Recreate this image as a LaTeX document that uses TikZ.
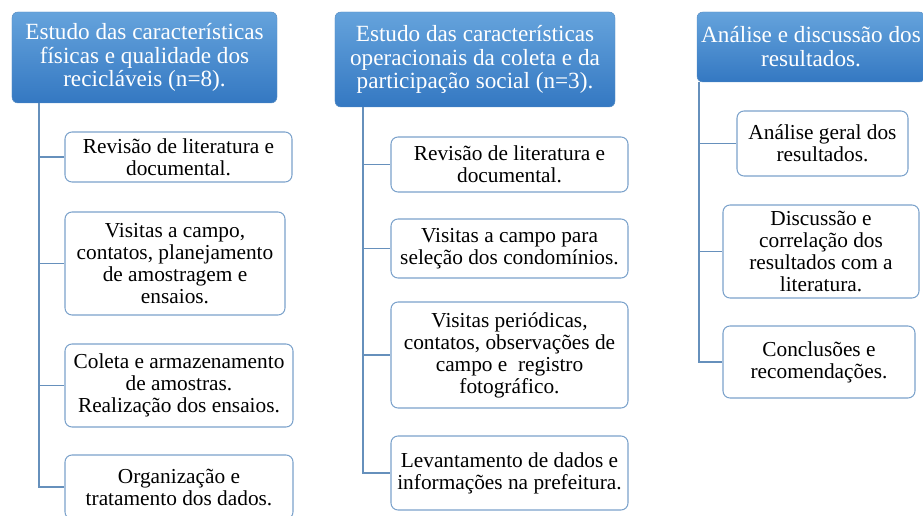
\documentclass[tikz,border=0pt]{standalone}
\usepackage{fontspec}
\setmainfont{Liberation Serif}
\usepackage{tikz}
\usepackage{xcolor}
\usetikzlibrary{positioning}

\definecolor{hdtop}{HTML}{65A3DC}
\definecolor{hdbot}{HTML}{3478C2}
\definecolor{hdline}{HTML}{5A8FC4}
\definecolor{boxline}{HTML}{7BA2CB}
\definecolor{connline}{HTML}{6690BC}

\tikzset{
  header/.style={rounded corners=5pt, draw=hdline, top color=hdtop, bottom color=hdbot,
    text=white, align=center, inner sep=0pt, font=\fontsize{19.8}{20.4}\selectfont},
  item/.style={rounded corners=6pt, draw=boxline, line width=0.9pt, fill=white, align=center,
    inner sep=0pt, font=\fontsize{18.2}{18.8}\selectfont},
  conn/.style={draw=connline, line width=1pt}
}

\begin{document}
\begin{tikzpicture}[x=0.03cm,y=-0.03cm]
\useasboundingbox (0,0) rectangle (923,516);

% cabecalhos
\node[header, minimum width=7.95cm, minimum height=2.73cm] (h1) at (144.5,57.5)
  {Estudo das características\\físicas e qualidade dos\\recicláveis (n=8).};
\node[header, minimum width=8.4cm, minimum height=2.85cm] (h2) at (475,59.5)
  {Estudo das características\\operacionais da coleta e da\\participação social (n=3).};
\node[header, minimum width=6.84cm, minimum height=2.1cm] (h3) at (811,47)
  {Análise e discussão dos\\resultados.};

% coluna 1
\node[item, minimum width=6.81cm, minimum height=1.5cm] (c1a) at (178.5,157)
  {Revisão de literatura e\\documental.};
\node[item, minimum width=6.6cm, minimum height=3.09cm] (c1b) at (175,263.5)
  {Visitas a campo,\\contatos, planejamento\\de amostragem e\\ensaios.};
\node[item, minimum width=6.84cm, minimum height=2.49cm] (c1c) at (179,385.5)
  {Coleta e armazenamento\\de amostras.\\Realização dos ensaios.};
\node[item, minimum width=6.84cm, minimum height=1.92cm] (c1d) at (179,487)
  {Organização e\\tratamento dos dados.};

% coluna 2
\node[item, minimum width=7.11cm, minimum height=1.65cm] (c2a) at (509.5,164.5)
  {Revisão de literatura e\\documental.};
\node[item, minimum width=7.11cm, minimum height=1.77cm] (c2b) at (509.5,248.5)
  {Visitas a campo para\\seleção dos condomínios.};
\node[item, minimum width=7.11cm, minimum height=3.18cm] (c2c) at (509.5,355)
  {Visitas periódicas,\\contatos, observações de\\campo e \ registro\\fotográfico.};
\node[item, minimum width=7.11cm, minimum height=2.22cm] (c2d) at (509.5,473)
  {Levantamento de dados e\\informações na prefeitura.};

% coluna 3
\node[item, minimum width=5.13cm, minimum height=1.95cm] (c3a) at (822.5,143.5)
  {Análise geral dos\\resultados.};
\node[item, minimum width=5.88cm, minimum height=2.79cm] (c3b) at (821,251.5)
  {Discussão e\\correlação dos\\resultados com a\\literatura.};
\node[item, minimum width=5.76cm, minimum height=2.16cm] (c3c) at (819,362)
  {Conclusões e\\recomendações.};

% ligacoes
\coordinate (t1) at (39,103);
\coordinate (t2) at (363,107);
\coordinate (t3) at (699,82);
\draw[conn] (t1) |- (c1d.west);
\draw[conn] (t2) |- (c2d.west);
\draw[conn] (t3) |- (c3c.west);
\foreach \t/\c in {t1/c1a,t1/c1b,t1/c1c,t2/c2a,t2/c2b,t2/c2c,t3/c3a,t3/c3b}{
\draw[conn] (\t |- \c.west) -- (\c.west);}
\end{tikzpicture}
\end{document}
